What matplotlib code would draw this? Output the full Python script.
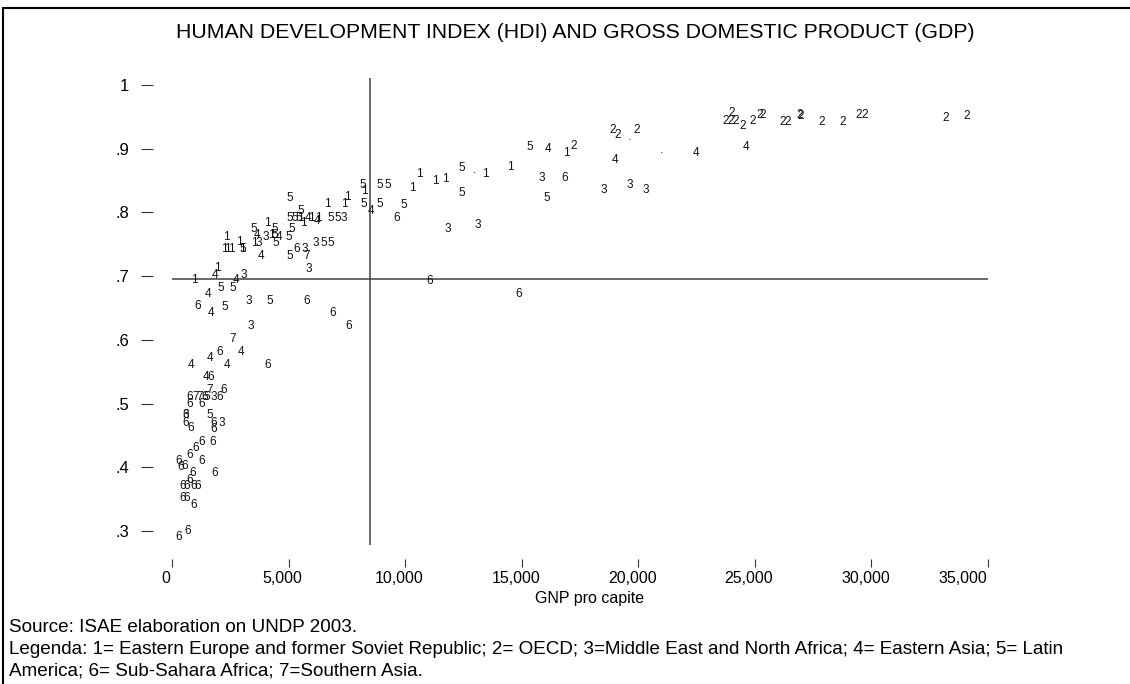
import matplotlib
matplotlib.use("Agg")
import matplotlib.pyplot as plt
from matplotlib.patches import Rectangle
from matplotlib.transforms import ScaledTranslation

plt.rcParams['font.family'] = ['Liberation Sans', 'DejaVu Sans']

# ---- data (GNP per capita, HDI) by region code ----
gnp1 = [8250, 7520, 6680, 7392, 5491, 5620, 5963, 6263, 4106, 4247, 2347, 2244, 2390, 2531,
        2887, 3033, 3531, 1961, 957, 16933, 14500, 13428, 10609, 11313, 11742, 10326]
hdi1 = [0.833, 0.825, 0.813, 0.813, 0.792, 0.783, 0.792, 0.791, 0.783, 0.765, 0.762, 0.743, 0.743, 0.743,
        0.754, 0.743, 0.752, 0.712, 0.694, 0.893, 0.872, 0.861, 0.861, 0.850, 0.852, 0.839]

gnp2 = [17246, 18919, 19133, 19949, 23767, 23981, 24196, 24024, 24496, 24925, 25225, 25354,
        26212, 26426, 26941, 26984, 27885, 28786, 29472, 29730, 33205, 34106]
hdi2 = [0.904, 0.929, 0.921, 0.930, 0.944, 0.944, 0.944, 0.956, 0.935, 0.944, 0.953, 0.953,
        0.942, 0.942, 0.953, 0.951, 0.942, 0.942, 0.953, 0.953, 0.949, 0.951]

gnp3 = [7349, 4020, 3702, 6178, 5676, 5877, 3089, 3303, 3376, 1772, 601, 2132, 11828, 13115,
        15860, 18503, 19618, 20322]
hdi3 = [0.792, 0.762, 0.752, 0.752, 0.743, 0.711, 0.702, 0.661, 0.622, 0.511, 0.482, 0.469, 0.774, 0.781,
        0.854, 0.835, 0.843, 0.835]

gnp4 = [8524, 5834, 6208, 3634, 4603, 3818, 1845, 2746, 1532, 1673, 1630, 2973, 815, 2347, 1446,
        16143, 19005, 22467, 24612]
hdi4 = [0.803, 0.792, 0.787, 0.765, 0.762, 0.732, 0.702, 0.694, 0.672, 0.642, 0.572, 0.581, 0.560, 0.560, 0.542,
        0.899, 0.882, 0.893, 0.903]

gnp5 = [5032, 8181, 8923, 9266, 8207, 8893, 9953, 12428, 12428, 15328, 16075, 5521, 5062, 5277, 5448,
        6808, 7121, 4389, 5135, 3518, 4419, 4989, 3033, 4462, 6491, 6808, 5032, 2072, 2604, 4204, 2244,
        1630, 1502]
hdi5 = [0.822, 0.843, 0.843, 0.843, 0.813, 0.813, 0.812, 0.869, 0.831, 0.903, 0.822, 0.803, 0.792, 0.792, 0.792,
        0.792, 0.792, 0.774, 0.774, 0.774, 0.765, 0.762, 0.743, 0.752, 0.752, 0.752, 0.732, 0.681, 0.681, 0.661, 0.652,
        0.482, 0.511]

gnp6 = [9640, 5779, 1103, 6894, 7593, 5350, 16830, 11068, 14856, 2029, 4106, 1660, 2201, 742, 1416, 2059,
        742, 1274, 601, 601, 815, 1802, 1772, 1287, 1746, 1030, 772, 1274, 300, 373, 558, 871, 1815, 742,
        459, 631, 914, 1085, 442, 631, 914, 270, 674]
hdi6 = [0.792, 0.661, 0.653, 0.642, 0.622, 0.743, 0.854, 0.693, 0.672, 0.581, 0.560, 0.542, 0.521, 0.511, 0.511, 0.511,
        0.500, 0.500, 0.482, 0.469, 0.461, 0.469, 0.460, 0.440, 0.440, 0.431, 0.420, 0.410, 0.410, 0.401, 0.402, 0.391, 0.391, 0.380,
        0.371, 0.371, 0.371, 0.371, 0.351, 0.351, 0.341, 0.291, 0.300]

gnp7 = [5779, 2604, 1630, 1030, 1201]
hdi7 = [0.732, 0.601, 0.522, 0.511, 0.511]

gnp_na = [19618, 12956, 21008]
hdi_na = [0.919, 0.867, 0.898]

gnp_mean = 8490
hdi_mean = 0.695

xticks = [0, 5000, 10000, 15000, 20000, 25000, 30000, 35000]
xticklabels = ['0', '5,000', '10,000', '15,000', '20,000', '25,000', '30,000', '35,000']
yticks = [0.3, 0.4, 0.5, 0.6, 0.7, 0.8, 0.9, 1.0]
yticklabels = ['.3', '.4', '.5', '.6', '.7', '.8', '.9', '1']

title = 'HUMAN DEVELOPMENT INDEX (HDI) AND GROSS DOMESTIC PRODUCT (GDP)'
xlabel = 'GNP pro capite'
source = 'Source: ISAE elaboration on UNDP 2003.'
legend1 = ('Legenda: 1= Eastern Europe and former Soviet Republic; 2= OECD; 3=Middle East and North Africa; '
           '4= Eastern Asia; 5= Latin')
legend2 = 'America; 6= Sub-Sahara Africa; 7=Southern Asia.'

groups = [('1', gnp1, hdi1), ('2', gnp2, hdi2), ('3', gnp3, hdi3), ('4', gnp4, hdi4),
          ('5', gnp5, hdi5), ('6', gnp6, hdi6), ('7', gnp7, hdi7), ('.', gnp_na, hdi_na)]

W, H = 1130, 684
fig = plt.figure(figsize=(W / 100, H / 100), dpi=100)
fig.patch.set_facecolor('white')

ax = fig.add_axes([172 / W, 1 - 545 / H, 816 / W, 467 / H])
ax.set_xlim(0, 35000)
ax.set_ylim(0.278, 1.011)
for s in ['top', 'right']:
    ax.spines[s].set_visible(False)
ax.spines['left'].set_position(('outward', 13.7))
ax.spines['bottom'].set_position(('outward', 10))
ax.spines['left'].set_visible(False)
ax.spines['bottom'].set_visible(False)

ax.set_xticks(xticks)
ax.set_xticklabels(xticklabels)
ax.set_yticks(yticks)
ax.set_yticklabels(yticklabels)
ax.tick_params(axis='y', direction='out', length=8.6, width=0.8, pad=8.6, labelsize=12, color='#333333')
ax.tick_params(axis='x', direction='out', length=5.8, width=0.8, pad=3, labelsize=11.5, color='#333333')
ax.set_xlabel(xlabel, fontsize=11.5, va='center')
ax.xaxis.set_label_coords((590 - 172) / 816, (545 - 598) / 467)

xlabs = ax.get_xticklabels()
for i, lab in enumerate(xlabs):
    dx = -6 if i < len(xlabs) - 1 else -25
    lab.set_transform(lab.get_transform() + ScaledTranslation(dx / 100, 0, fig.dpi_scale_trans))

ax.axvline(gnp_mean, color='#404040', lw=1.1, zorder=1)
ax.axhline(hdi_mean, color='#404040', lw=1.1, zorder=1)

for lab, xs, ys in groups:
    for x, y in zip(xs, ys):
        ax.text(x, y, lab, ha='center', va='center', fontsize=8.5, color='#111111', zorder=3)

t_title = fig.text(575 / W, 1 - 33 / H, title, ha='center', va='center', fontsize=15)
t_src = fig.text(9 / W, 1 - 628 / H, source, ha='left', va='center', fontsize=10.5)
t_l1 = fig.text(9 / W, 1 - 650 / H, legend1, ha='left', va='center', fontsize=10.5)
t_l2 = fig.text(9 / W, 1 - 671 / H, legend2, ha='left', va='center', fontsize=10.5)

# fit widths of the long texts to the reference
fig.canvas.draw()
r = fig.canvas.get_renderer()
def fit(t, target):
    w = t.get_window_extent(r).width
    return t.get_fontsize() * target / w
t_title.set_fontsize(fit(t_title, 800))
fl = fit(t_l1, 1071)
for t in (t_src, t_l1, t_l2):
    t.set_fontsize(fl)

# outer frame
fig.patches.append(Rectangle((3 / W, -0.05), 1.2, 1 - 8 / H + 0.05, transform=fig.transFigure,
                             fill=False, edgecolor='black', lw=1.5))

fig.savefig('out.png', dpi=100, facecolor='white')
